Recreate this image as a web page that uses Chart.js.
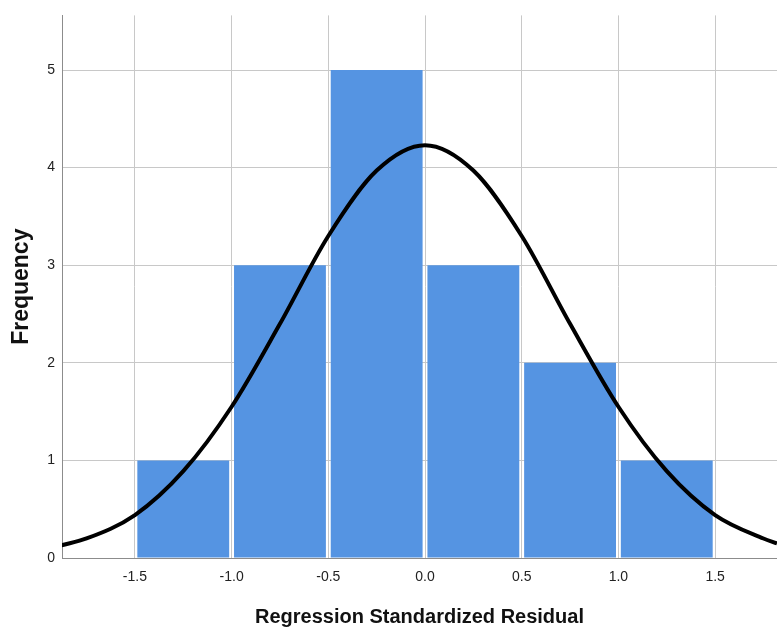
<!DOCTYPE html>
<html>
<head>
<meta charset="utf-8">
<script src="https://cdn.jsdelivr.net/npm/chart.js@4/dist/chart.umd.min.js"></script>
<style>
  html, body { margin: 0; padding: 0; background: #fff; }
  canvas { display: block; }
</style>
</head>
<body>
<canvas id="histChart" width="777" height="630"></canvas>
<script>
// histogram bins (centres) and counts
const binCenters = [-1.25, -0.75, -0.25, 0.25, 0.75, 1.25];
const binCounts = [1, 3, 5, 3, 2, 1];

// normal curve
const curveX = [-1.88, -1.75, -1.5, -1.25, -1.0, -0.75, -0.5, -0.25, 0.0, 0.25, 0.5, 0.75, 1.0, 1.25, 1.5, 1.75, 1.82];
const curveY = [0.13, 0.2, 0.44, 0.89, 1.55, 2.4, 3.3, 3.97, 4.23, 3.97, 3.3, 2.4, 1.55, 0.89, 0.44, 0.2, 0.15];

// axis ticks
const xTicks = [-1.5, -1.0, -0.5, 0.0, 0.5, 1.0, 1.5];
const yTicks = [0, 1, 2, 3, 4, 5];

const fontFamily = "'Liberation Sans', Arial, sans-serif";
const gridColor = '#c8c8c8';
const axisColor = '#8c8c8c';

var ctx = document.getElementById('histChart').getContext('2d');
var chart = new Chart(ctx, {
    type: 'bar',
    data: {
        datasets: [
            {
                type: 'line',
                data: curveX.map(function(x, i) { return { x: x, y: curveY[i] }; }),
                borderColor: '#000000',
                borderWidth: 4,
                pointRadius: 0,
                fill: false,
                cubicInterpolationMode: 'monotone',
                order: 0
            },
            {
                type: 'bar',
                data: binCenters.map(function(x, i) { return { x: x, y: binCounts[i] }; }),
                backgroundColor: '#5594e2',
                borderWidth: 0,
                categoryPercentage: 1.0,
                barPercentage: 0.95,
                order: 1
            }
        ]
    },
    options: {
        responsive: false,
        animation: false,
        layout: { padding: { top: 13, right: 0, bottom: 0, left: 0 } },
        plugins: {
            legend: { display: false },
            tooltip: { enabled: false },
            title: { display: false }
        },
        scales: {
            x: {
                type: 'linear',
                offset: false,
                min: -1.877,
                max: 1.82,
                afterBuildTicks: function(scale) {
                    scale.ticks = xTicks.map(function(v) { return { value: v }; });
                },
                afterFit: function(scale) { scale.height = 72; },
                grid: { color: gridColor, drawTicks: false, offset: false },
                border: { color: axisColor, width: 1 },
                ticks: {
                    padding: 11,
                    color: '#222222',
                    font: { family: fontFamily, size: 14 },
                    maxRotation: 0,
                    callback: function(value) { return Number(value).toFixed(1); }
                },
                title: {
                    display: true,
                    text: 'Regression Standardized Residual',
                    color: '#111111',
                    font: { family: fontFamily, size: 20, weight: 'bold' },
                    padding: { top: 0, bottom: 1 }
                }
            },
            y: {
                min: 0,
                max: 5.56,
                afterBuildTicks: function(scale) {
                    scale.ticks = yTicks.map(function(v) { return { value: v }; });
                },
                afterFit: function(scale) { scale.width = 62; },
                grid: { color: gridColor, drawTicks: false },
                border: { color: axisColor, width: 1 },
                ticks: {
                    padding: 7,
                    color: '#222222',
                    font: { family: fontFamily, size: 14 }
                },
                title: {
                    display: true,
                    text: 'Frequency',
                    color: '#111111',
                    font: { family: fontFamily, size: 23, weight: 'bold' },
                    padding: { top: 8, bottom: 0 }
                }
            }
        }
    }
});
</script>
</body>
</html>
